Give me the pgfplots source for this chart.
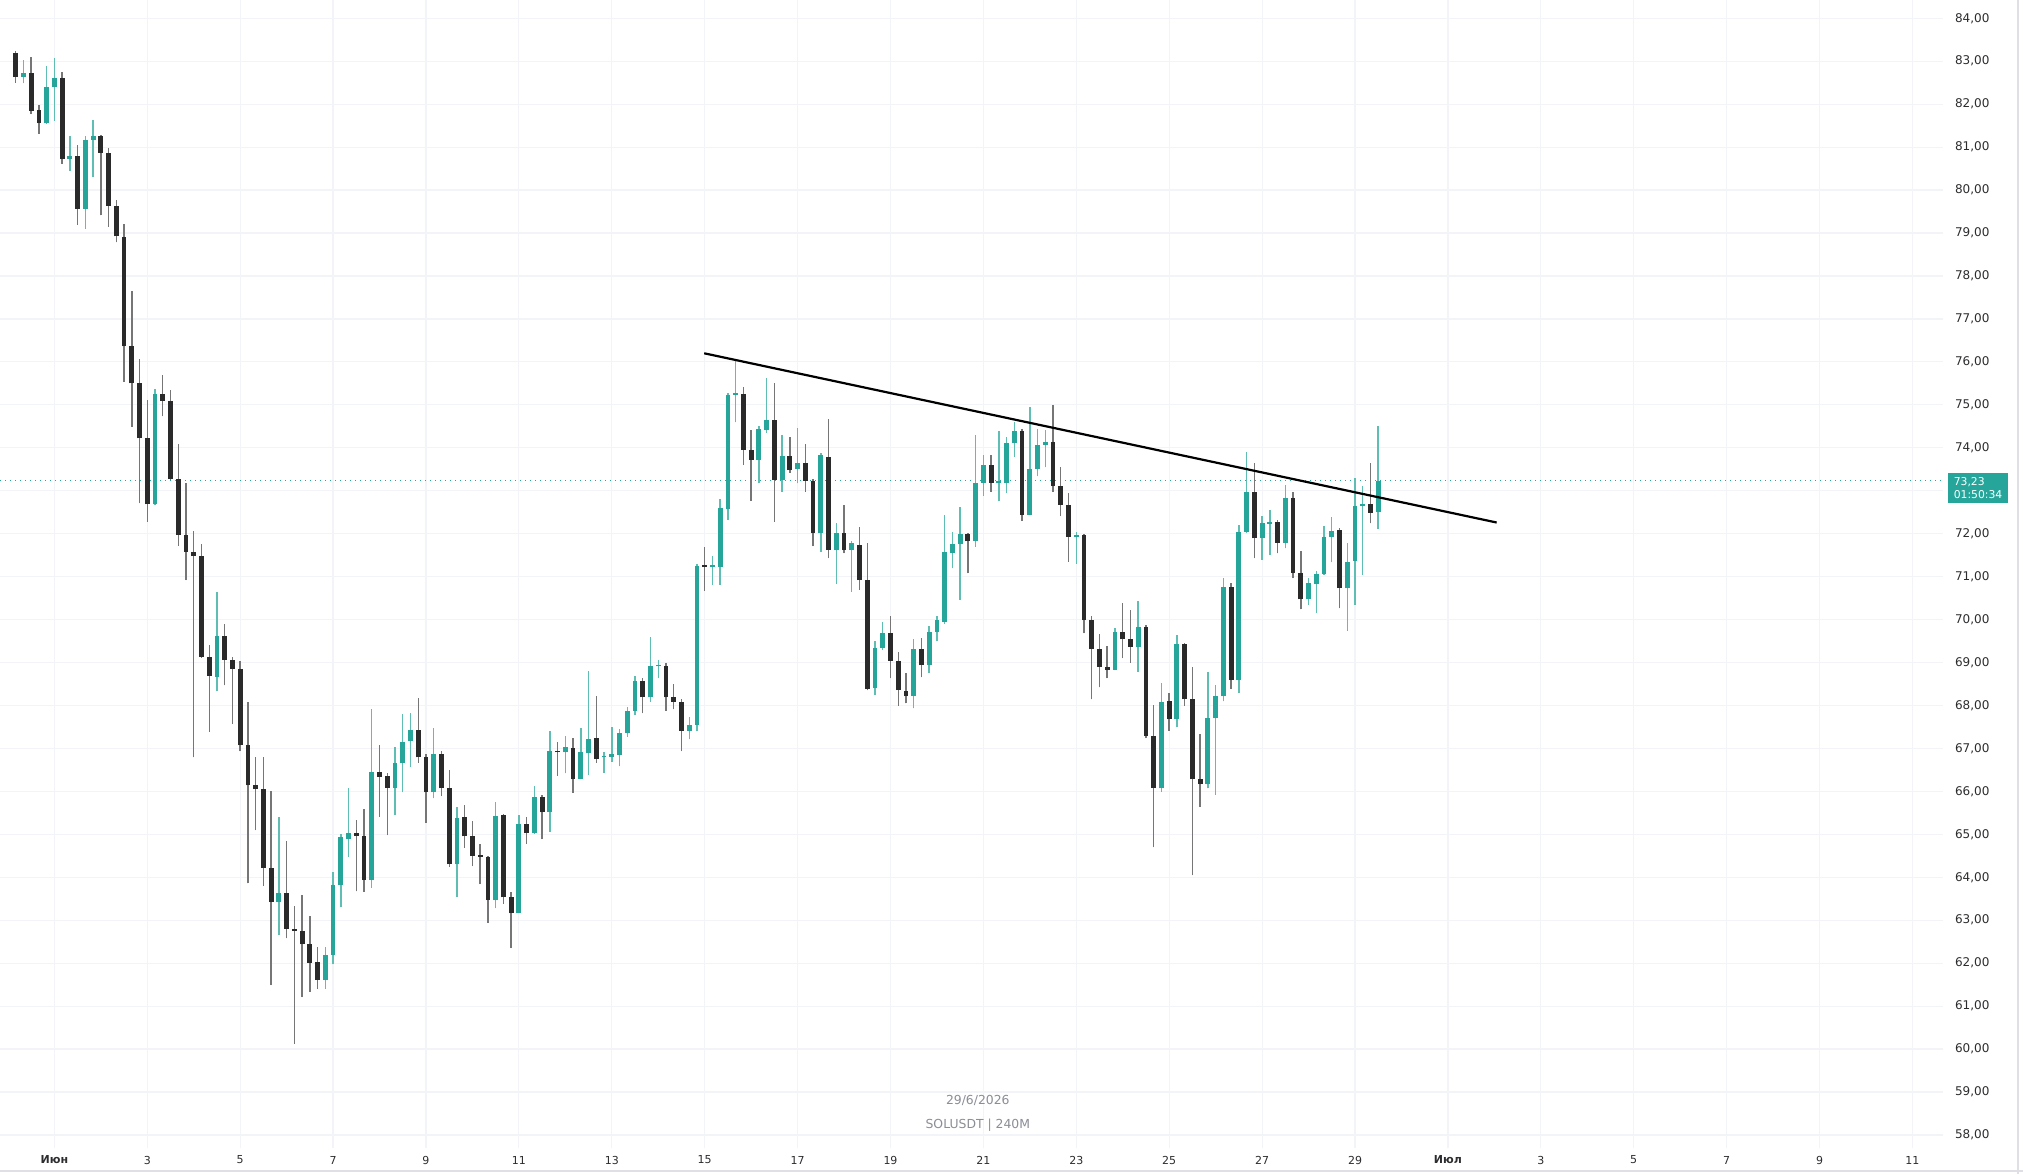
\documentclass[border=0pt]{standalone}
\usepackage{pgfplots}
\usepackage{pgfplotstable}
\pgfplotsset{compat=1.18}
\usepackage{fontspec}
\setmainfont{DejaVu Sans}
\definecolor{up}{RGB}{38,166,154}
\definecolor{dn}{RGB}{42,42,42}
\definecolor{upwick}{RGB}{95,190,180}
\definecolor{dnwick}{RGB}{118,118,118}
\definecolor{gridc}{RGB}{243,244,247}
\definecolor{txt}{RGB}{45,45,48}
\definecolor{wm}{RGB}{140,142,150}
\definecolor{border}{RGB}{222,224,228}

\pgfplotstableread{
i o h l c
-5 83.20 83.24 82.50 82.63
-4 82.63 83.03 82.49 82.72
-3 82.72 83.09 81.77 81.85
-2 81.86 81.98 81.31 81.56
-1 81.56 82.89 81.55 82.41
0 82.41 83.07 81.61 82.60
1 82.60 82.74 80.61 80.72
2 80.72 81.26 80.45 80.80
3 80.80 81.05 79.19 79.56
4 79.56 81.27 79.10 81.17
5 81.17 81.63 80.31 81.26
6 81.26 81.28 79.41 80.87
7 80.87 80.99 79.15 79.64
8 79.64 79.76 78.78 78.92
9 78.90 79.20 75.54 76.36
10 76.36 77.64 74.49 75.50
11 75.50 76.06 72.71 74.22
12 74.22 75.11 72.28 72.68
13 72.68 75.38 72.67 75.25
14 75.25 75.70 74.73 75.10
15 75.10 75.35 73.24 73.27
16 73.27 74.09 71.72 71.97
17 71.97 73.17 70.92 71.58
18 71.58 72.06 66.79 71.48
19 71.48 71.77 69.11 69.13
20 69.13 69.42 67.39 68.69
21 68.67 70.64 68.33 69.62
22 69.62 69.89 68.47 69.07
23 69.07 69.13 67.57 68.85
24 68.85 69.03 66.93 67.08
25 67.08 68.09 63.86 66.14
26 66.14 66.79 65.10 66.05
27 66.05 66.80 63.80 64.22
28 64.22 66.02 61.49 63.42
29 63.42 65.41 62.66 63.63
30 63.63 64.85 62.58 62.80
31 62.80 63.34 60.13 62.76
32 62.76 63.59 61.21 62.44
33 62.44 63.10 61.33 62.01
34 62.03 62.38 61.40 61.61
35 61.61 62.38 61.40 62.19
36 62.19 64.12 61.97 63.82
37 63.82 65.01 63.30 64.93
38 64.89 66.08 64.48 65.04
39 65.04 65.33 63.67 64.96
40 64.96 65.60 63.66 63.94
41 63.94 67.91 63.76 66.46
42 66.46 67.09 65.41 66.34
43 66.37 66.42 64.98 66.08
44 66.08 67.04 65.44 66.67
45 66.67 67.81 65.98 67.16
46 67.17 67.82 66.56 67.43
47 67.43 68.17 66.67 66.79
48 66.79 66.87 65.27 65.98
49 65.98 67.47 65.84 66.87
50 66.87 66.93 65.89 66.07
51 66.07 66.50 64.25 64.30
52 64.30 65.64 63.55 65.39
53 65.41 65.68 64.69 64.95
54 64.96 65.32 64.26 64.50
55 64.51 64.78 63.84 64.48
56 64.47 64.50 62.94 63.47
57 63.47 65.76 63.28 65.43
58 65.45 65.47 63.38 63.53
59 63.53 63.65 62.35 63.16
60 63.16 65.45 63.16 65.24
61 65.24 65.40 64.78 65.02
62 65.02 66.13 65.01 65.88
63 65.88 65.92 64.88 65.51
64 65.53 67.41 65.06 66.93
65 66.94 67.14 66.36 66.91
66 66.91 67.29 66.42 67.03
67 67.02 67.24 65.97 66.28
68 66.28 67.47 66.28 66.92
69 66.89 68.81 66.38 67.23
70 67.25 68.21 66.67 66.75
71 66.79 66.92 66.42 66.82
72 66.80 67.51 66.69 66.86
73 66.85 67.45 66.58 67.37
74 67.35 67.96 67.27 67.88
75 67.88 68.69 67.78 68.58
76 68.58 68.63 67.82 68.19
77 68.19 69.59 68.09 68.92
78 68.91 69.07 68.63 68.94
79 68.92 69.00 67.88 68.19
80 68.19 68.50 67.91 68.09
81 68.09 68.14 66.94 67.41
82 67.41 67.74 67.21 67.55
83 67.55 71.30 67.40 71.25
84 71.26 71.70 70.67 71.22
85 71.22 71.48 70.81 71.25
86 71.23 72.80 70.81 72.59
87 72.57 75.28 72.32 75.23
88 75.23 76.03 74.59 75.28
89 75.25 75.42 73.60 73.96
90 73.96 74.41 72.77 73.72
91 73.72 74.51 73.17 74.43
92 74.41 75.62 74.35 74.65
93 74.65 75.50 72.28 73.25
94 73.25 74.30 72.98 73.81
95 73.81 74.24 73.42 73.48
96 73.50 74.45 73.17 73.65
97 73.65 74.09 72.98 73.23
98 73.23 73.27 71.71 72.01
99 72.01 73.87 71.58 73.83
100 73.78 74.66 71.43 71.62
101 71.62 72.24 70.83 72.02
102 72.02 72.67 71.54 71.62
103 71.62 71.84 70.65 71.78
104 71.74 72.15 70.70 70.92
105 70.92 71.78 68.36 68.38
106 68.40 69.49 68.24 69.33
107 69.35 69.95 69.30 69.68
108 69.68 70.08 68.63 69.04
109 69.04 69.25 67.99 68.36
110 68.34 68.75 68.05 68.22
111 68.22 69.54 67.93 69.31
112 69.31 69.56 68.66 68.94
113 68.94 69.85 68.75 69.72
114 69.72 70.08 69.49 69.98
115 69.95 72.44 69.90 71.58
116 71.56 72.05 71.19 71.76
117 71.76 72.61 70.46 71.99
118 71.99 72.02 71.08 71.82
119 71.82 74.30 71.70 73.19
120 73.19 73.83 72.88 73.60
121 73.60 73.83 72.98 73.19
122 73.19 74.38 72.75 73.21
123 73.19 74.24 72.94 74.12
124 74.12 74.59 73.79 74.40
125 74.40 74.43 72.30 72.44
126 72.44 74.96 72.44 73.50
127 73.50 74.43 73.34 74.07
128 74.07 74.41 73.55 74.14
129 74.14 75.00 72.98 73.11
130 73.11 73.55 72.41 72.67
131 72.67 72.95 71.35 71.93
132 71.93 72.05 71.30 71.97
133 71.97 71.99 69.68 69.99
134 69.99 70.08 68.14 69.31
135 69.31 69.67 68.42 68.90
136 68.90 69.39 68.63 68.83
137 68.83 69.80 68.82 69.70
138 69.70 70.39 69.10 69.54
139 69.54 70.22 68.99 69.37
140 69.37 70.44 68.79 69.82
141 69.82 69.88 67.24 67.29
142 67.29 68.01 64.70 66.09
143 66.07 68.53 65.99 68.09
144 68.11 68.30 67.41 67.68
145 67.68 69.64 67.49 69.43
146 69.43 69.45 67.99 68.14
147 68.14 68.90 64.05 66.28
148 66.28 67.34 65.64 66.17
149 66.17 68.79 66.07 67.72
150 67.70 68.48 65.92 68.21
151 68.21 70.98 68.10 70.75
152 70.77 70.85 68.38 68.59
153 68.59 72.20 68.30 72.05
154 72.05 73.91 72.01 72.98
155 72.98 73.64 71.43 71.89
156 71.89 72.41 71.39 72.26
157 72.23 72.55 71.50 72.28
158 72.28 72.32 71.54 71.79
159 71.79 73.13 71.66 72.82
160 72.82 72.98 70.96 71.09
161 71.09 71.60 70.24 70.47
162 70.47 70.96 70.34 70.86
163 70.84 71.12 70.15 71.06
164 71.06 72.18 71.04 71.92
165 71.92 72.40 71.33 72.06
166 72.09 72.13 70.26 70.73
167 70.73 71.79 69.74 71.35
168 71.37 73.29 70.34 72.64
169 72.64 73.10 71.04 72.69
170 72.70 73.65 72.24 72.49
171 72.51 74.51 72.12 73.23
}\candles

\pgfplotsset{candle/.style={only marks, mark=*, mark size=0pt, mark options={draw=none, fill=none},
  error bars/.cd, y dir=both, y explicit, error mark=none}}

\begin{document}
\begin{tikzpicture}
\useasboundingbox (0,0) rectangle (1011.5pt,587pt);
\fill[white] (0,0) rectangle (1011.5pt,587pt);
\begin{axis}[
  at={(0pt,13pt)}, anchor=south west,
  scale only axis, width=971.5pt, height=574pt,
  xmin=-0.171, xmax=41.659, ymin=57.697, ymax=84.426,
  axis line style={draw=none},
  major tick length=0pt,
  grid=major, major grid style={gridc, line width=0.6pt},
  xtick={1,3,...,41},
  xticklabels={\textbf{Июн},3,5,7,9,11,13,15,17,19,21,23,25,27,29,\textbf{Июл},3,5,7,9,11},
  xticklabel style={anchor=center, yshift=-6pt, font=\fontsize{5.5}{6}\selectfont, text=txt},
  ytick={58,...,84},
  yticklabels={{58,00},{59,00},{60,00},{61,00},{62,00},{63,00},{64,00},{65,00},{66,00},{67,00},{68,00},{69,00},{70,00},{71,00},{72,00},{},{74,00},{75,00},{76,00},{77,00},{78,00},{79,00},{80,00},{81,00},{82,00},{83,00},{84,00}},
  ytick pos=right, yticklabel pos=right,
  yticklabel style={anchor=west, xshift=2.5pt, font=\fontsize{6}{7}\selectfont, text=txt},
  restrict y to domain=0:200,
]
% current price dotted line
\addplot[up, dotted, line width=0.5pt] coordinates {(-0.171,73.23) (41.659,73.23)};
% wicks
\addplot[candle, error bar style={line width=0.7pt, dnwick}]
  table[x expr=1+\thisrow{i}/6, y expr={\thisrow{c}<\thisrow{o} ? \thisrow{l} : -1000},
        y error plus expr=\thisrow{h}-\thisrow{l}, y error minus expr=0] {\candles};
\addplot[candle, error bar style={line width=0.7pt, upwick}]
  table[x expr=1+\thisrow{i}/6, y expr={\thisrow{c}>=\thisrow{o} ? \thisrow{l} : -1000},
        y error plus expr=\thisrow{h}-\thisrow{l}, y error minus expr=0] {\candles};
% bodies
\addplot[candle, error bar style={line width=2.4pt, dn}]
  table[x expr=1+\thisrow{i}/6, y expr={\thisrow{c}<\thisrow{o} ? \thisrow{c} : -1000},
        y error plus expr={max(\thisrow{o}-\thisrow{c},0.04)}, y error minus expr=0] {\candles};
\addplot[candle, error bar style={line width=2.4pt, up}]
  table[x expr=1+\thisrow{i}/6, y expr={\thisrow{c}>=\thisrow{o} ? \thisrow{o} : -1000},
        y error plus expr={max(\thisrow{c}-\thisrow{o},0.04)}, y error minus expr=0] {\candles};
% trendline
\addplot[black, line width=1.1pt] coordinates {(14.99,76.20) (32.05,72.26)};
\node[text=wm, font=\fontsize{6.2}{7}\selectfont] at (axis cs:20.88,58.80) {29/6/2026};
\node[text=wm, font=\fontsize{6.2}{7}\selectfont] at (axis cs:20.88,58.22) {SOLUSDT | 240M};
\end{axis}
\draw[border, line width=0.6pt] (1009pt,0) -- (1009pt,587pt);
\draw[border, line width=0.6pt] (0,1.5pt) -- (1011.5pt,1.5pt);
\fill[up] (974pt,335.5pt) rectangle (1004pt,350.5pt);
\node[text=white, font=\fontsize{5.4}{6.8}\selectfont, align=left, anchor=center, inner sep=0pt] at (989pt,343pt) {73,23\\01:50:34};
\end{tikzpicture}
\end{document}
